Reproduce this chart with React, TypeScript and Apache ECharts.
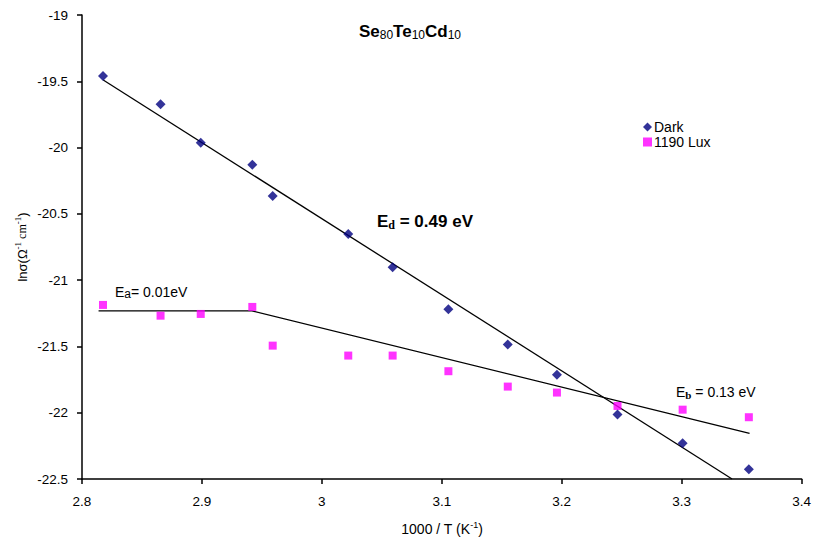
import React, { useEffect, useRef } from "react";
import * as echarts from "echarts";

const invT = [2.8175, 2.8655, 2.899, 2.942, 2.959, 3.022, 3.059, 3.1055, 3.155, 3.196, 3.2465, 3.3008, 3.356];
const darkVals = [-19.46, -19.673, -19.963, -20.129, -20.365, -20.652, -20.903, -21.22, -21.486, -21.713, -22.014, -22.23, -22.426];
const luxVals = [-21.187, -21.268, -21.255, -21.202, -21.494, -21.569, -21.569, -21.687, -21.803, -21.848, -21.949, -21.977, -22.034];
const darkFitX = [2.8177, 3.342];
const darkFitY = [-19.49, -22.5];
const luxFitX = [2.8138, 2.9417, 3.3566];
const luxFitY = [-21.232, -21.232, -22.155];

const FONT = "'Liberation Sans', Arial, sans-serif";

export default function App() {
  const ref = useRef<HTMLDivElement>(null);
  useEffect(() => {
    if (!ref.current) return;
    const chart = echarts.init(ref.current, undefined, { renderer: "svg" });
    const zip = (xs: number[], ys: number[]) => xs.map((x, i) => [x, ys[i]]);
    chart.setOption({
      animation: false,
      backgroundColor: "#ffffff",
      grid: { left: 82, right: 11, top: 15, bottom: 63 },
      xAxis: {
        type: "value",
        min: 2.8,
        max: 3.4,
        interval: 0.1,
        splitLine: { show: false },
        axisLine: { onZero: false, lineStyle: { color: "#000", width: 1.5 } },
        axisTick: { show: true, length: 5, lineStyle: { color: "#000", width: 1.5 } },
        axisLabel: { color: "#000", fontSize: 13.5, fontFamily: FONT, margin: 15 },
      },
      yAxis: {
        type: "value",
        min: -22.5,
        max: -19,
        interval: 0.5,
        splitLine: { show: false },
        axisLine: { show: true, onZero: false, lineStyle: { color: "#000", width: 1.5 } },
        axisTick: { show: true, length: 5, lineStyle: { color: "#000", width: 1.5 } },
        axisLabel: { color: "#000", fontSize: 13.5, fontFamily: FONT, margin: 14 },
      },
      legend: {
        orient: "vertical",
        left: 638,
        top: 115,
        itemWidth: 9,
        itemHeight: 9,
        itemGap: 1,
        data: ["Dark", "1190 Lux"],
        textStyle: { color: "#000", fontSize: 14, fontFamily: FONT, padding: [0, 0, 0, -3] },
      },
      series: [
        {
          name: "Dark fit",
          type: "line",
          data: zip(darkFitX, darkFitY),
          symbol: "none",
          lineStyle: { color: "#000", width: 1.3 },
          z: 1,
        },
        {
          name: "Lux fit",
          type: "line",
          data: zip(luxFitX, luxFitY),
          symbol: "none",
          lineStyle: { color: "#000", width: 1.3 },
          z: 1,
        },
        {
          name: "Dark",
          type: "scatter",
          data: zip(invT, darkVals),
          symbol: "diamond",
          symbolSize: 10,
          itemStyle: { color: "#000080" },
          z: 3,
        },
        {
          name: "1190 Lux",
          type: "scatter",
          data: zip(invT, luxVals),
          symbol: "rect",
          symbolSize: 8,
          itemStyle: { color: "#FF00FF" },
          z: 2,
        },
      ],
      graphic: [
        {
          type: "text",
          x: 410,
          y: 31,
          style: {
            text: "{b|Se}{s|80}{b|Te}{s|10}{b|Cd}{s|10}",
            align: "center",
            verticalAlign: "middle",
            fill: "#000",
            rich: {
              b: { fontSize: 17, fontWeight: "bold", fontFamily: FONT, fill: "#000", lineHeight: 20 },
              s: { fontSize: 12, fontFamily: FONT, fill: "#000", padding: [7, 0, 0, 0] },
            },
          },
        },
        {
          type: "text",
          x: 377,
          y: 221,
          style: {
            text: "{b|E}{s|d}{b| = 0.49 eV}",
            align: "left",
            verticalAlign: "middle",
            fill: "#000",
            rich: {
              b: { fontSize: 17, fontWeight: "bold", fontFamily: FONT, fill: "#000", lineHeight: 20 },
              s: { fontSize: 12, fontWeight: "bold", fontFamily: "'Liberation Serif', serif", fill: "#000", padding: [7, 0, 0, 0] },
            },
          },
        },
        {
          type: "text",
          x: 115,
          y: 292,
          style: {
            text: "{b|E}{s|a}{b|= 0.01eV}",
            align: "left",
            verticalAlign: "middle",
            fill: "#000",
            rich: {
              b: { fontSize: 14, fontFamily: FONT, fill: "#000", lineHeight: 18 },
              s: { fontSize: 12, fontFamily: FONT, fill: "#000", padding: [4, 0, 0, 0] },
            },
          },
        },
        {
          type: "text",
          x: 676,
          y: 392,
          style: {
            text: "{b|E}{s|b}{b| = 0.13 eV}",
            align: "left",
            verticalAlign: "middle",
            fill: "#000",
            rich: {
              b: { fontSize: 14, fontFamily: FONT, fill: "#000", lineHeight: 18 },
              s: { fontSize: 11, fontWeight: "bold", fontFamily: "'Liberation Serif', serif", fill: "#000", padding: [6, 0, 0, 0] },
            },
          },
        },
        {
          type: "text",
          x: 442,
          y: 529,
          style: {
            text: "{b|1000 / T (K}{p|-1}{b|)}",
            align: "center",
            verticalAlign: "middle",
            fill: "#000",
            rich: {
              b: { fontSize: 14, fontFamily: FONT, fill: "#000", lineHeight: 18 },
              p: { fontSize: 9, fontFamily: FONT, fill: "#000", padding: [0, 0, 8, 0] },
            },
          },
        },
        {
          type: "text",
          x: 22,
          y: 247,
          rotation: Math.PI / 2,
          style: {
            text: "{b|lnσ(Ω}{p|-1}{c| cm}{p|-1}{b|)}",
            align: "center",
            verticalAlign: "middle",
            fill: "#000",
            rich: {
              b: { fontSize: 13, fontFamily: FONT, fill: "#000", lineHeight: 18 },
              c: { fontSize: 12, fontFamily: "'Liberation Serif', serif", fill: "#000", lineHeight: 18 },
              p: { fontSize: 9, fontFamily: "'Liberation Serif', serif", fill: "#000", padding: [0, 0, 8, 0] },
            },
          },
        },
      ],
    });
    return () => chart.dispose();
  }, []);
  return <div ref={ref} style={{ position: "fixed", left: 0, top: 0, width: 814, height: 542 }} />;
}
